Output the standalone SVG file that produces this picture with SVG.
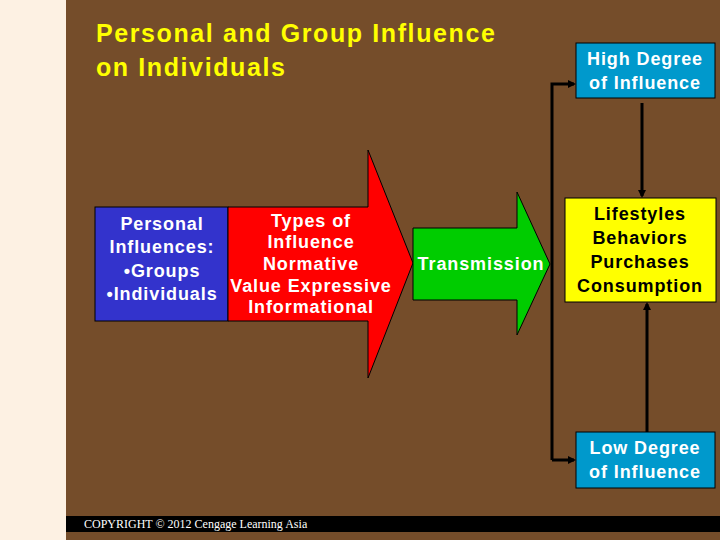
<svg xmlns="http://www.w3.org/2000/svg" width="720" height="540" viewBox="0 0 720 540">
<style>
text{font-family:"Liberation Sans",Arial,sans-serif;font-weight:bold;text-anchor:middle}
.w{fill:#fff;font-size:18px;letter-spacing:0.9px}
.k{fill:#000;font-size:18px;letter-spacing:0.9px}
.t{fill:#ffff00;font-size:25px;text-anchor:start;letter-spacing:1.6px}
.c{stroke:#000;stroke-width:3;fill:none}
</style>
<defs><marker id="a" markerWidth="8" markerHeight="8" refX="6" refY="4" orient="auto" markerUnits="userSpaceOnUse"><path d="M0,0 L8,4 L0,8 Z" fill="#000"/></marker></defs>
<rect width="720" height="540" fill="#754d2a"/>
<rect width="66" height="540" fill="#fdf1e3"/>
<rect x="66" y="516" width="654" height="16" fill="#000"/>
<text x="84" y="528" style="font-family:'Liberation Serif',serif;font-weight:normal;font-size:12px;fill:#fff;text-anchor:start">COPYRIGHT © 2012 Cengage Learning Asia</text>
<g id="title"><text class="t" x="96" y="42">Personal and Group Influence</text><text class="t" x="96" y="76">on Individuals</text></g>
<g id="personal"><rect x="95" y="207" width="133" height="114" fill="#3333cc" stroke="#000"/>
<text class="w" x="162" y="230">Personal</text><text class="w" x="162" y="253">Influences:</text><text class="w" x="162" y="277">•Groups</text><text class="w" x="162" y="300">•Individuals</text></g>
<g id="types"><path d="M228,207 H368 V150 L413,263 L368,378 V321 H228 Z" fill="#ff0000" stroke="#000"/>
<text class="w" x="311" y="227">Types of</text><text class="w" x="311" y="248">Influence</text><text class="w" x="311" y="270">Normative</text><text class="w" x="311" y="292">Value Expressive</text><text class="w" x="311" y="313">Informational</text></g>
<g id="transmission"><path d="M413,228 H517 V192 L550,264 L517,335 V300 H413 Z" fill="#00cc00" stroke="#000"/>
<text class="w" x="481" y="270">Transmission</text></g>
<g id="high"><rect x="576" y="43" width="139" height="55" fill="#0099cc" stroke="#000"/><text class="w" x="645" y="65">High Degree</text><text class="w" x="645" y="89">of Influence</text></g>
<g id="life"><rect x="565" y="198" width="151" height="104" fill="#ffff00" stroke="#000"/>
<text class="k" x="640" y="220">Lifestyles</text><text class="k" x="640" y="244">Behaviors</text><text class="k" x="640" y="268">Purchases</text><text class="k" x="640" y="292">Consumption</text></g>
<g id="low"><rect x="576" y="432" width="139" height="56" fill="#0099cc" stroke="#000"/><text class="w" x="645" y="454">Low Degree</text><text class="w" x="645" y="478">of Influence</text></g>
<g id="connectors">
<path class="c" d="M552,460 V84 H574" marker-end="url(#a)"/>
<path class="c" d="M552,460 H574" marker-end="url(#a)"/>
<path class="c" d="M642,103 V196" marker-end="url(#a)"/>
<path class="c" d="M647,432 V304" marker-end="url(#a)"/>
</g>
</svg>
